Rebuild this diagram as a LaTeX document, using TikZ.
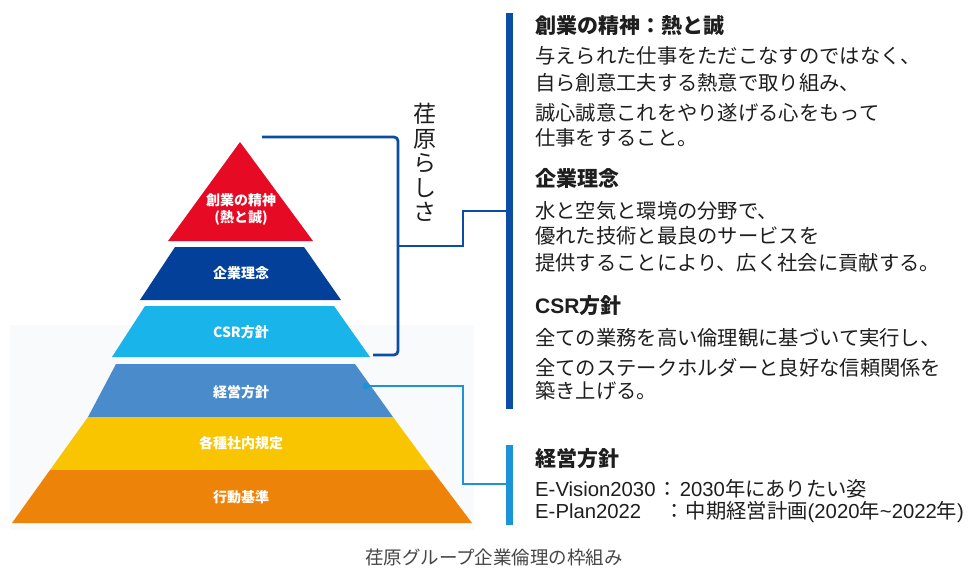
\documentclass[tikz,border=0pt]{standalone}
\usepackage{fontspec}
\setmainfont{Noto Sans CJK JP}
\newfontfamily\lat{Liberation Sans}
\definecolor{cRed}{RGB}{230,10,36}
\definecolor{cNavy}{RGB}{3,64,154}
\definecolor{cSky}{RGB}{25,180,234}
\definecolor{cSteel}{RGB}{74,140,203}
\definecolor{cYel}{RGB}{248,197,0}
\definecolor{cOra}{RGB}{238,131,10}
\definecolor{cBrk}{RGB}{11,77,162}
\definecolor{cLite}{RGB}{26,148,212}
\definecolor{cTxt}{RGB}{30,30,30}
\definecolor{cCap}{RGB}{70,70,70}
\definecolor{cBg}{RGB}{249,250,252}
\begin{document}
\begin{tikzpicture}[x=1pt,y=-1pt,
  ptxt/.style={text=white,font=\fontsize{14}{17}\selectfont\bfseries,align=center,inner sep=0},
  ttl/.style={anchor=base west,inner sep=0,text=cTxt,font=\fontsize{21}{24}\selectfont\bfseries},
  body/.style={anchor=base west,inner sep=0,text=cTxt,font=\fontsize{20.3}{24}\selectfont},
  brk/.style={draw=cBrk,line width=2.8pt},
  lite/.style={draw=cLite,line width=2.6pt}]
\useasboundingbox (0,0) rectangle (978,568);
\fill[white] (0,0) rectangle (978,568);
\fill[cBg] (10,325) rectangle (474,530);
% pyramid layers
\fill[cRed] (240,142) -- (313,241) -- (168,241) -- cycle;
\fill[cNavy] (175,247) -- (304,247) -- (341,300) -- (140,300) -- cycle;
\fill[cSky] (145,306) -- (334,306) -- (370,357) -- (112,357) -- cycle;
\fill[cSteel] (116,364) -- (355,364) -- (393,417) -- (88,417) -- cycle;
\fill[cYel] (88,417) -- (393,417) -- (432,470) -- (50,470) -- cycle;
\fill[cOra] (50,470) -- (432,470) -- (472,523) -- (12,523) -- cycle;
\node[ptxt] (p1) at (241,209.5) {創業の精神\\(熱と誠)};
\node[ptxt] (p2) at (241,273) {企業理念};
\node[ptxt] (p3) at (241,332) {CSR方針};
\node[ptxt] (p4) at (241,392) {経営方針};
\node[ptxt] (p5) at (241,443) {各種社内規定};
\node[ptxt] (p6) at (241,497) {行動基準};
% bars
\node[fill=cBrk,inner sep=0,minimum width=7,minimum height=396] (bar1) at (509.5,211) {};
\node[fill=cLite,inner sep=0,minimum width=7,minimum height=80] (bar2) at (509.5,485) {};
% bracket
\coordinate (bt) at (262,137);
\coordinate (bb) at (398,355);
\coordinate (be) at (373,355);
\draw[brk,rounded corners=4] (bt) -| (bb) -- (be);
\coordinate (m1) at (398,246);
\coordinate (m2) at (463,246);
\coordinate (m3) at (463,211);
\draw[brk] (m1) -- (m2) -- (m3) -- (bar1.west |- m3);
% light connector
\fill[cLite] (366,386) circle (3.5);
\coordinate (d0) at (366,386);
\coordinate (d1) at (463,386);
\coordinate (d2) at (463,484);
\draw[lite] (d0) -- (d1) -- (d2) -- (bar2.west |- d2);
% vertical label
\node[inner sep=0,align=center,text=cTxt,font=\fontsize{23}{24.4}\selectfont] (ebr) at (425,162.5) {荏\\原\\ら\\し\\さ};
% right text
\node[ttl] (t1) at (535,33) {創業の精神：熱と誠};
\node[body] (t1a) at (535,63) {与えられた仕事をただこなすのではなく、};
\node[body] (t1b) at (535,90) {自ら創意工夫する熱意で取り組み、};
\node[body] (t1c) at (535,120) {誠心誠意これをやり遂げる心をもって};
\node[body] (t1d) at (535,145) {仕事をすること。};
\node[ttl] (t2) at (535,186) {企業理念};
\node[body] (t2a) at (535,218) {水と空気と環境の分野で、};
\node[body] (t2b) at (535,243) {優れた技術と最良のサービスを};
\node[body] (t2c) at (535,270) {提供することにより、広く社会に貢献する。};
\node[ttl] (t3) at (535,313) {{\lat CSR}方針};
\node[body] (t3a) at (535,345) {全ての業務を高い倫理観に基づいて実行し、};
\node[body] (t3b) at (535,375) {全てのステークホルダーと良好な信頼関係を};
\node[body] (t3c) at (535,398) {築き上げる。};
\node[ttl] (t4) at (535,466) {経営方針};
\node[body] (t4a) at (535,496) {{\lat E-Vision2030}\hspace{2pt}：\hspace{2pt}{\lat 2030}年にありたい姿};
\node[body] (t4b) at (535,518) {\rlap{\lat E-Plan2022}\hphantom{\lat E-Vision2030}\hspace{9pt}：\hspace{1pt}中期経営計画{\lat (2020}年{\lat \textasciitilde 2022}年{\lat )}};
% caption
\node[inner sep=0,text=cCap,font=\fontsize{18.5}{21}\selectfont] (cap) at (494,557) {荏原グループ企業倫理の枠組み};
\end{tikzpicture}
\end{document}
